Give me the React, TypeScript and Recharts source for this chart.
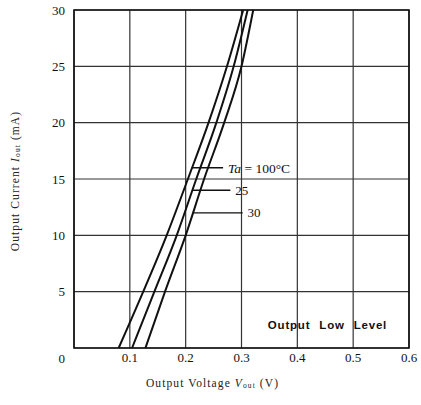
import { CartesianGrid, Line, LineChart, ReferenceArea, ReferenceDot, ReferenceLine, XAxis, YAxis } from "recharts";

// output current (mA) vs output voltage (V) for each ambient temperature
const currentMA = [0, 5, 10, 15, 20, 25, 30];
const vTa100 = [0.08, 0.124, 0.166, 0.204, 0.241, 0.274, 0.303];
const vTa25 = [0.104, 0.144, 0.184, 0.219, 0.255, 0.286, 0.311];
const vTaMinus30 = [0.128, 0.163, 0.2, 0.233, 0.269, 0.3, 0.321];

const xTicks = [0.1, 0.2, 0.3, 0.4, 0.5, 0.6];
const yTicks = [0, 5, 10, 15, 20, 25, 30];

// leader lines for the temperature labels
const leaderLabels = ["Ta = 100°C", "25", "30"];
const leaderCurrent = [16, 14, 12];
const leaderFromV = [0.211, 0.212, 0.213];
const leaderToV = [0.267, 0.28, 0.302];
const leaderGap = [13, 3, 3];

const toPoints = (vs: number[]) => vs.map((v, i) => ({ v, i: currentMA[i] }));
const series = [toPoints(vTa100), toPoints(vTa25), toPoints(vTaMinus30)];

const SERIF = "'Liberation Serif', 'DejaVu Serif', serif";

function YTick({ x, y, payload }: any) {
  return (
    <text x={x} y={y + (payload.value === 0 ? 10 : 0)} textAnchor="end" dominantBaseline="central" fontSize={13} fontFamily={SERIF} fill="#111">
      {payload.value}
    </text>
  );
}

function LeaderText({ viewBox, value, offset }: any) {
  const x = viewBox.x + viewBox.width + offset;
  const y = viewBox.y + viewBox.height / 2;
  if (value.startsWith("Ta")) {
    return (
      <text x={x} y={y} dominantBaseline="central" fontSize={13.5} fontFamily={SERIF} fill="#111">
        <tspan fontStyle="italic">Ta</tspan>
        <tspan> = 100°C</tspan>
      </text>
    );
  }
  return (
    <text x={x} y={y} dominantBaseline="central" fontSize={13} fontFamily={SERIF} fill="#111">
      {value}
    </text>
  );
}

function XTitle({ viewBox }: any) {
  return (
    <text x={viewBox.x + viewBox.width / 2 - 29} y={viewBox.y + 35} textAnchor="middle" dominantBaseline="central" fontSize={11.5} letterSpacing={1.1} fontFamily={SERIF} fill="#222">
      <tspan>Output Voltage </tspan>
      <tspan fontStyle="italic">V</tspan>
      <tspan fontSize={7.5} dy={2}>out</tspan>
      <tspan dy={-2}> (V)</tspan>
    </text>
  );
}

function YTitle({ viewBox }: any) {
  const cx = 15;
  const cy = viewBox.y + viewBox.height / 2 + 2;
  return (
    <text x={cx} y={cy} transform={`rotate(-90 ${cx} ${cy})`} textAnchor="middle" dominantBaseline="central" fontSize={11.5} letterSpacing={1.1} fontFamily={SERIF} fill="#222">
      <tspan>Output Current </tspan>
      <tspan fontStyle="italic">I</tspan>
      <tspan fontSize={7.5} dy={2}>out</tspan>
      <tspan dy={-2}> (mA)</tspan>
    </text>
  );
}

export default function App() {
  return (
    <div style={{ position: "absolute", left: 0, top: 0, width: 421, height: 405, background: "#fff" }}>
      <LineChart width={421} height={405} margin={{ top: 10, right: 12, left: 0, bottom: 0 }}>
        <CartesianGrid stroke="#333" strokeWidth={1.2} />
        <XAxis
          type="number"
          dataKey="v"
          domain={[0, 0.6]}
          ticks={xTicks}
          tickFormatter={(v: number) => v.toFixed(1)}
          height={57}
          axisLine={false}
          tickLine={false}
          tickSize={3}
          tickMargin={2}
          tick={{ fontSize: 13, fontFamily: SERIF, fill: "#111" }}
          label={{ content: XTitle }}
        />
        <YAxis
          type="number"
          dataKey="i"
          domain={[0, 30]}
          ticks={yTicks}
          width={74}
          axisLine={false}
          tickLine={false}
          tickSize={6}
          tickMargin={3}
          tick={YTick}
          label={{ content: YTitle }}
        />
        <ReferenceArea x1={0} x2={0.6} y1={0} y2={30} fill="none" stroke="#111" strokeWidth={1.6} />
        {series.map((pts, k) => (
          <Line
            key={k}
            data={pts}
            dataKey="i"
            type="monotone"
            stroke="#111"
            strokeWidth={2}
            dot={false}
            isAnimationActive={false}
          />
        ))}
        {leaderLabels.map((lbl, k) => (
          <ReferenceLine
            key={lbl}
            segment={[
              { x: leaderFromV[k], y: leaderCurrent[k] },
              { x: leaderToV[k], y: leaderCurrent[k] },
            ]}
            stroke="#111"
            strokeWidth={1.3}
            label={<LeaderText value={lbl} offset={leaderGap[k]} />}
          />
        ))}
        <ReferenceDot
          x={0.454}
          y={2.05}
          r={0}
          fill="none"
          stroke="none"
          label={{
            value: "Output Low Level",
            position: "center",
            fontSize: 11.5,
            fontWeight: 700,
            fontFamily: "'Liberation Sans', Arial, sans-serif",
            fill: "#111",
            letterSpacing: 0.8,
            wordSpacing: 5,
          }}
        />
      </LineChart>
    </div>
  );
}
